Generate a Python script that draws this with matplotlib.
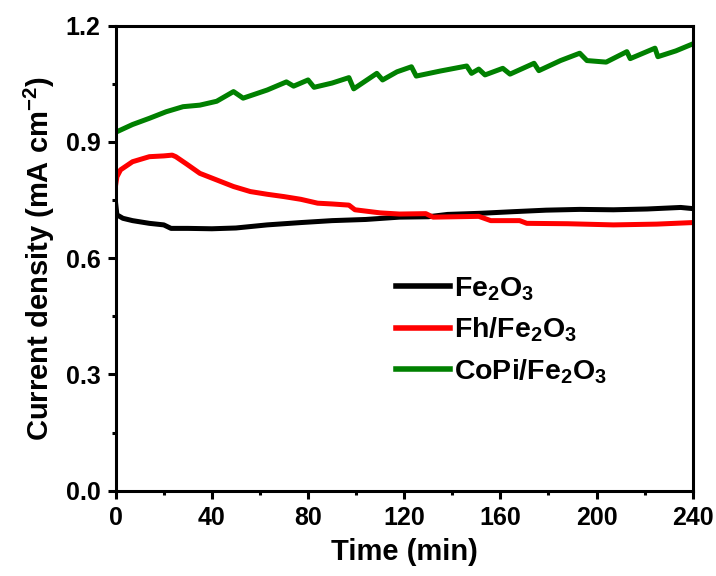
import matplotlib
matplotlib.use('Agg')
import matplotlib.pyplot as plt
from matplotlib.ticker import MultipleLocator

plt.rcParams['font.family'] = 'Liberation Sans'
plt.rcParams['font.weight'] = 'bold'
plt.rcParams['mathtext.fontset'] = 'custom'
plt.rcParams['mathtext.rm'] = 'Liberation Sans:bold'
plt.rcParams['mathtext.bf'] = 'Liberation Sans:bold'

# Fe2O3
fe_t = [0, 0.5, 3, 7, 14, 20, 23, 30, 40, 50, 63, 77, 90, 104, 118, 130, 138,
        152, 165, 179, 193, 207, 221, 235, 240]
fe_j = [0.74, 0.712, 0.703, 0.697, 0.690, 0.686, 0.677, 0.677, 0.676, 0.678,
        0.686, 0.692, 0.697, 0.700, 0.706, 0.707, 0.713, 0.716, 0.720, 0.724,
        0.726, 0.725, 0.727, 0.731, 0.728]

# Fh/Fe2O3
fh_t = [0, 0.5, 2, 7, 14, 20, 23.5, 25, 29.5, 35, 42, 49, 56, 63, 70, 77, 84,
        90, 97, 99.5, 110, 118, 129, 132, 151, 156, 168, 171, 188, 207, 225, 240]
fh_j = [0.79, 0.81, 0.828, 0.849, 0.862, 0.864, 0.866, 0.862, 0.843, 0.819,
        0.802, 0.785, 0.772, 0.765, 0.759, 0.752, 0.742, 0.740, 0.737, 0.725,
        0.717, 0.714, 0.715, 0.706, 0.708, 0.697, 0.697, 0.690, 0.689, 0.686,
        0.688, 0.692]

# CoPi/Fe2O3
copi_t = [0, 7, 14, 21, 28, 35, 42, 49, 53, 63, 71, 74, 80, 82.5, 90, 97, 99,
          108.6, 111, 117, 123, 125, 135, 146, 148, 151, 153.6, 161, 164, 174,
          176, 185, 193, 196, 204, 212.6, 214, 224.3, 225.5, 233, 240]
copi_j = [0.925, 0.945, 0.961, 0.978, 0.991, 0.995, 1.005, 1.030, 1.013, 1.034,
          1.055, 1.044, 1.060, 1.041, 1.052, 1.066, 1.037, 1.077, 1.060, 1.081,
          1.094, 1.070, 1.083, 1.096, 1.077, 1.088, 1.073, 1.090, 1.075, 1.103,
          1.084, 1.110, 1.129, 1.110, 1.106, 1.133, 1.115, 1.142, 1.120, 1.135,
          1.153]

labels = [r'Fe$_\mathbf{2}$O$_\mathbf{3}$',
          r'Fh/Fe$_\mathbf{2}$O$_\mathbf{3}$',
          r'CoPi/Fe$_\mathbf{2}$O$_\mathbf{3}$']

fig = plt.figure(figsize=(7.16, 5.76), dpi=100)
ax = fig.add_axes([0.1616, 0.148, 0.8059, 0.8074])

lw = 3.6
ax.plot(fe_t, fe_j, color='black', lw=lw, label=labels[0])
ax.plot(fh_t, fh_j, color='#ff0000', lw=lw, label=labels[1])
ax.plot(copi_t, copi_j, color='#008000', lw=lw, label=labels[2])

ax.set_xlim(0, 240)
ax.set_ylim(0, 1.2)
ax.xaxis.set_major_locator(MultipleLocator(40))
ax.xaxis.set_minor_locator(MultipleLocator(20))
ax.yaxis.set_major_locator(MultipleLocator(0.3))
ax.yaxis.set_minor_locator(MultipleLocator(0.15))
ax.yaxis.set_major_formatter(plt.FormatStrFormatter('%.1f'))

for s in ax.spines.values():
    s.set_linewidth(2.2)
ax.tick_params(which='major', direction='out', length=6, width=2.2,
               labelsize=18, top=False, right=False, pad=5)
ax.tick_params(which='minor', direction='out', length=3, width=2.2,
               top=False, right=False)
for lab in ax.get_xticklabels() + ax.get_yticklabels():
    lab.set_fontweight('bold')

ax.set_xlabel('Time (min)', fontsize=21, fontweight='bold', labelpad=6)
ax.set_ylabel(r'Current density (mA cm$^\mathbf{-2}$)', fontsize=21,
              fontweight='bold', labelpad=6)

leg = ax.legend(loc='upper left', bbox_to_anchor=(0.441, 0.519), frameon=False,
                fontsize=20.5, handlelength=1.9, handletextpad=0.15,
                labelspacing=0.45)
for h in leg.get_lines():
    h.set_linewidth(4)

fig.savefig('out.png', dpi=100)
